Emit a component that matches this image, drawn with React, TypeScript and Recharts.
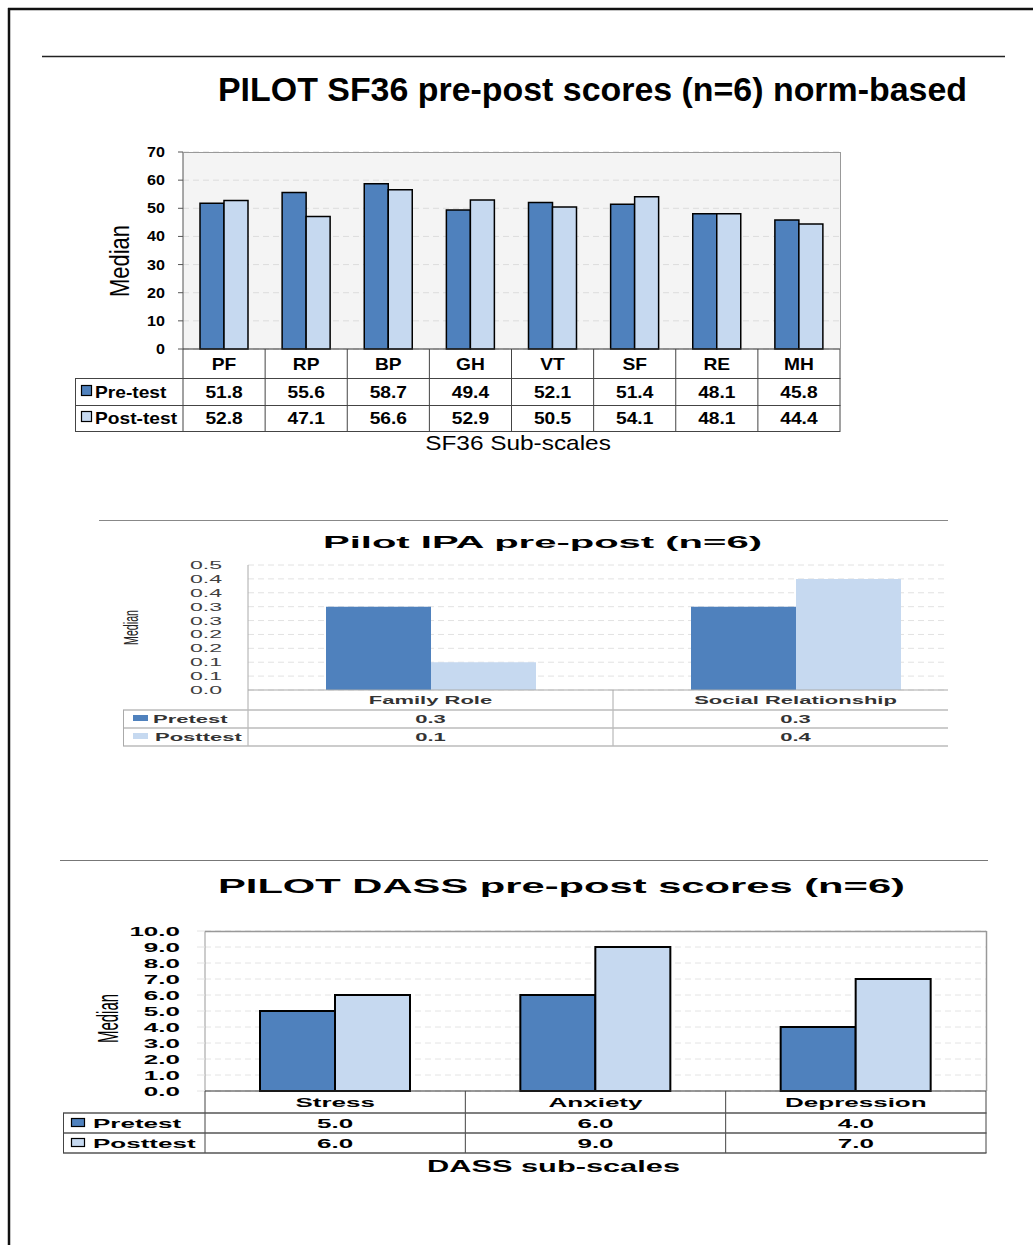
import React from 'react'
import { BarChart, Bar, XAxis, YAxis, CartesianGrid } from 'recharts'

const FONT = '"Liberation Sans", Arial, Helvetica, sans-serif'
const PRE = '#4f81bd'
const POST = '#c6d9f0'

// SF36 sub-scales, norm-based medians
const SF_CATS = ['PF', 'RP', 'BP', 'GH', 'VT', 'SF', 'RE', 'MH']
const SF_PRE = [51.8, 55.6, 58.7, 49.4, 52.1, 51.4, 48.1, 45.8]
const SF_POST = [52.8, 47.1, 56.6, 52.9, 50.5, 54.1, 48.1, 44.4]
const SF_TICKS = [0, 10, 20, 30, 40, 50, 60, 70]

// IPA medians (shown to one decimal)
const IPA_CATS = ['Family Role', 'Social Relationship']
const IPA_PRE = [0.333, 0.333]
const IPA_POST = [0.111, 0.444]
const IPA_TICKS = [0, 0.0556, 0.1111, 0.1667, 0.2222, 0.2778, 0.3333, 0.3889, 0.4444, 0.5]

// DASS sub-scales
const DASS_CATS = ['Stress', 'Anxiety', 'Depression']
const DASS_PRE = [5.0, 6.0, 4.0]
const DASS_POST = [6.0, 9.0, 7.0]
const DASS_TICKS = [0, 1, 2, 3, 4, 5, 6, 7, 8, 9, 10]

const sfData = SF_CATS.map((cat, i) => ({ cat, pre: SF_PRE[i], post: SF_POST[i] }))
const ipaData = IPA_CATS.map((cat, i) => ({ cat, pre: IPA_PRE[i], post: IPA_POST[i] }))
const dassData = DASS_CATS.map((cat, i) => ({ cat, pre: DASS_PRE[i], post: DASS_POST[i] }))

type TxtProps = {
  x: number
  y: number
  size: number
  bold?: boolean
  sx?: number
  anchor?: 'start' | 'middle' | 'end'
  fill?: string
  len?: number
  rot?: boolean
  children: React.ReactNode
}

// text that can be stretched sideways or rotated like the spreadsheet export
function Txt({ x, y, size, bold, sx = 1, anchor = 'middle', fill = '#000', len, rot, children }: TxtProps) {
  const t = rot ? `translate(${x},${y}) rotate(-90)` : `translate(${x},${y}) scale(${sx},1)`
  return (
    <text
      transform={t}
      fontFamily={FONT}
      fontSize={size}
      fontWeight={bold ? 700 : 400}
      textAnchor={anchor}
      fill={fill}
      textLength={len}
      lengthAdjust={len ? 'spacingAndGlyphs' : undefined}
    >
      {children}
    </text>
  )
}

type TableCfg = {
  bw: number
  cats: string[]
  pre: number[]
  post: number[]
  digits: number
  rows: [number, number, number]
  bottom: number
  size: number
  sx: number
  line: string
  fill: string
}

// x-axis tick that draws one column of the data table under the plot
function tableTick(cfg: TableCfg) {
  return (p: any) => {
    const label = p.payload.value as string
    const i = cfg.cats.indexOf(label)
    const { x, y } = p
    const h = cfg.bw / 2
    return (
      <g>
        <line x1={x - h} x2={x - h} y1={y} y2={y + cfg.bottom} stroke={cfg.line} />
        {i === cfg.cats.length - 1 && (
          <line x1={x + h} x2={x + h} y1={y} y2={y + cfg.bottom} stroke={cfg.line} />
        )}
        <Txt x={x} y={y + cfg.rows[0]} size={cfg.size} bold sx={cfg.sx} fill={cfg.fill}>{label}</Txt>
        <Txt x={x} y={y + cfg.rows[1]} size={cfg.size} bold sx={cfg.sx} fill={cfg.fill}>{cfg.pre[i].toFixed(cfg.digits)}</Txt>
        <Txt x={x} y={y + cfg.rows[2]} size={cfg.size} bold sx={cfg.sx} fill={cfg.fill}>{cfg.post[i].toFixed(cfg.digits)}</Txt>
      </g>
    )
  }
}

function yTick(size: number, sx: number, bold: boolean, fill: string, digits: number, dy: number) {
  return (p: any) => (
    <Txt x={p.x} y={p.y + dy} size={size} bold={bold} sx={sx} anchor="end" fill={fill}>
      {Number(p.payload.value).toFixed(digits)}
    </Txt>
  )
}

function SfChart() {
  return (
    <div style={{ position: 'absolute', left: 75, top: 140 }}>
      <BarChart width={785} height={296} data={sfData} margin={{ top: 12, right: 20, left: 0, bottom: 5 }} barCategoryGap={17} barGap={0}>
        <CartesianGrid vertical={false} stroke="#dcdcdc" strokeDasharray="6 4" fill="#f4f4f4" />
        <YAxis
          width={108}
          domain={[0, 70]}
          ticks={SF_TICKS}
          interval={0}
          tickSize={5}
          tickMargin={13}
          axisLine={{ stroke: '#555' }}
          tickLine={{ stroke: '#555' }}
          tick={yTick(14, 1.15, true, '#000', 0, 5)}
        />
        <XAxis
          dataKey="cat"
          height={82}
          interval={0}
          tickSize={0}
          tickMargin={0}
          tickLine={false}
          axisLine={{ stroke: '#333' }}
          tick={tableTick({ bw: 657 / 8, cats: SF_CATS, pre: SF_PRE, post: SF_POST, digits: 1, rows: [20.5, 48.5, 75], bottom: 82, size: 16, sx: 1.2, line: '#444', fill: '#000' })}
        />
        <Bar dataKey="pre" fill={PRE} stroke="#000" strokeWidth={1.5} isAnimationActive={false} />
        <Bar dataKey="post" fill={POST} stroke="#000" strokeWidth={1.5} isAnimationActive={false} />
      </BarChart>
    </div>
  )
}

function IpaChart() {
  return (
    <div style={{ position: 'absolute', left: 99, top: 515, width: 849, height: 240, overflow: 'hidden' }}>
      <div style={{ position: 'absolute', left: 24, top: 40 }}>
        <BarChart width={865} height={195} data={ipaData} margin={{ top: 10, right: 10, left: 0, bottom: 4 }} barCategoryGap={78} barGap={0}>
          <CartesianGrid vertical={false} stroke="#e2e2e2" strokeDasharray="6 4" />
          <YAxis
            width={125}
            domain={[0, 0.5]}
            ticks={IPA_TICKS}
            interval={0}
            tickSize={0}
            tickMargin={26}
            tickLine={false}
            axisLine={{ stroke: '#aaa' }}
            tick={yTick(11, 2.1, false, '#404040', 1, 4)}
          />
          <XAxis
            dataKey="cat"
            height={56}
            interval={0}
            tickSize={0}
            tickMargin={0}
            tickLine={false}
            axisLine={{ stroke: '#aaa' }}
            tick={tableTick({ bw: 730 / 2, cats: IPA_CATS, pre: IPA_PRE, post: IPA_POST, digits: 1, rows: [14, 33, 51], bottom: 56, size: 11, sx: 2, line: '#aaa', fill: '#333' })}
          />
          <Bar dataKey="pre" fill={PRE} isAnimationActive={false} />
          <Bar dataKey="post" fill={POST} isAnimationActive={false} />
        </BarChart>
      </div>
    </div>
  )
}

function DassChart() {
  return (
    <div style={{ position: 'absolute', left: 63, top: 921 }}>
      <BarChart width={933} height={237} data={dassData} margin={{ top: 10, right: 10, left: 0, bottom: 5 }} barCategoryGap={55} barGap={0}>
        <CartesianGrid vertical={false} stroke="#e4e4e4" strokeDasharray="6 4" />
        <YAxis
          width={142}
          domain={[0, 10]}
          ticks={DASS_TICKS}
          interval={0}
          tickSize={8}
          tickMargin={17}
          axisLine={{ stroke: '#999' }}
          tickLine={{ stroke: '#e4e4e4' }}
          tick={yTick(13, 2, true, '#000', 1, 5)}
        />
        <XAxis
          dataKey="cat"
          height={62}
          interval={0}
          tickSize={0}
          tickMargin={0}
          tickLine={false}
          axisLine={{ stroke: '#333' }}
          tick={tableTick({ bw: 781 / 3, cats: DASS_CATS, pre: DASS_PRE, post: DASS_POST, digits: 1, rows: [16, 37, 57], bottom: 62, size: 13, sx: 2, line: '#444', fill: '#000' })}
        />
        <Bar dataKey="pre" fill={PRE} stroke="#000" strokeWidth={2} isAnimationActive={false} />
        <Bar dataKey="post" fill={POST} stroke="#000" strokeWidth={2} isAnimationActive={false} />
      </BarChart>
    </div>
  )
}

// titles, rules, frames and the series column of each data table
function Overlay() {
  return (
    <svg width={1033} height={1245} style={{ position: 'absolute', left: 0, top: 0, pointerEvents: 'none' }}>
      {/* page edges */}
      <line x1={8} x2={1033} y1={9} y2={9} stroke="#111" strokeWidth={2.5} />
      <line x1={9} x2={9} y1={8} y2={1245} stroke="#111" strokeWidth={2.5} />

      {/* SF36 */}
      <line x1={42} x2={1005} y1={56.5} y2={56.5} stroke="#222" strokeWidth={1.5} />
      <Txt x={218} y={101} size={33} bold anchor="start" len={749}>PILOT SF36 pre-post scores (n=6) norm-based</Txt>
      <Txt x={129} y={297} size={27} anchor="start" len={72} rot>Median</Txt>
      <line x1={183} x2={840.5} y1={152.5} y2={152.5} stroke="#999" />
      <line x1={840.5} x2={840.5} y1={152} y2={349} stroke="#999" />
      {[378, 405, 431].map(y => (
        <line key={y} x1={75} x2={840.5} y1={y + 0.5} y2={y + 0.5} stroke="#444" />
      ))}
      <line x1={75.5} x2={75.5} y1={378} y2={432} stroke="#444" />
      <rect x={81.5} y={385.5} width={10} height={10} fill={PRE} stroke="#000" strokeWidth={1.2} />
      <rect x={81.5} y={411.5} width={10} height={10} fill={POST} stroke="#000" strokeWidth={1.2} />
      <Txt x={95} y={397.5} size={16} bold sx={1.2} anchor="start">Pre-test</Txt>
      <Txt x={95} y={424} size={16} bold sx={1.2} anchor="start">Post-test</Txt>
      <Txt x={518} y={450} size={20} sx={1.22}>SF36 Sub-scales</Txt>

      {/* IPA */}
      <line x1={99} x2={948} y1={520.5} y2={520.5} stroke="#888" strokeWidth={1.2} />
      <Txt x={323} y={548} size={17} bold anchor="start" len={439}>Pilot IPA pre-post (n=6)</Txt>
      <Txt x={138} y={645} size={20} anchor="start" len={35} rot fill="#222">Median</Txt>
      {[710, 728, 746].map(y => (
        <line key={y} x1={123} x2={948} y1={y} y2={y} stroke="#bbb" strokeWidth={1.5} />
      ))}
      <line x1={123.5} x2={123.5} y1={710} y2={746} stroke="#aaa" />
      <rect x={133} y={715} width={15} height={6} fill={PRE} />
      <rect x={133} y={733} width={15} height={6} fill={POST} />
      <Txt x={153} y={723} size={11} bold sx={2} anchor="start" fill="#333">Pretest</Txt>
      <Txt x={155} y={741} size={11} bold sx={2} anchor="start" fill="#333">Posttest</Txt>

      {/* DASS */}
      <line x1={60} x2={988} y1={860.5} y2={860.5} stroke="#777" strokeWidth={1.2} />
      <Txt x={218} y={893} size={21} bold anchor="start" len={687}>PILOT DASS pre-post scores (n=6)</Txt>
      <Txt x={118} y={1043} size={30} anchor="start" len={49} rot>Median</Txt>
      <line x1={205} x2={986.5} y1={931.5} y2={931.5} stroke="#999" strokeWidth={1.5} />
      <line x1={986.5} x2={986.5} y1={931} y2={1091} stroke="#999" strokeWidth={1.5} />
      {[1113, 1133, 1153].map(y => (
        <line key={y} x1={63} x2={986.5} y1={y} y2={y} stroke="#555" strokeWidth={1.5} />
      ))}
      <line x1={63.5} x2={63.5} y1={1113} y2={1153} stroke="#444" />
      <rect x={71.5} y={1118.5} width={13} height={8} fill={PRE} stroke="#000" strokeWidth={1.2} />
      <rect x={71.5} y={1138.5} width={13} height={8} fill={POST} stroke="#000" strokeWidth={1.2} />
      <Txt x={93} y={1128} size={13} bold sx={2} anchor="start">Pretest</Txt>
      <Txt x={93} y={1148} size={13} bold sx={2} anchor="start">Posttest</Txt>
      <Txt x={427} y={1172} size={17} bold anchor="start" len={253}>DASS sub-scales</Txt>
    </svg>
  )
}

export default function App() {
  return (
    <div style={{ position: 'absolute', left: 0, top: 0, width: 1033, height: 1245, background: '#fff', fontFamily: FONT, overflow: 'hidden' }}>
      <SfChart />
      <IpaChart />
      <DassChart />
      <Overlay />
    </div>
  )
}
